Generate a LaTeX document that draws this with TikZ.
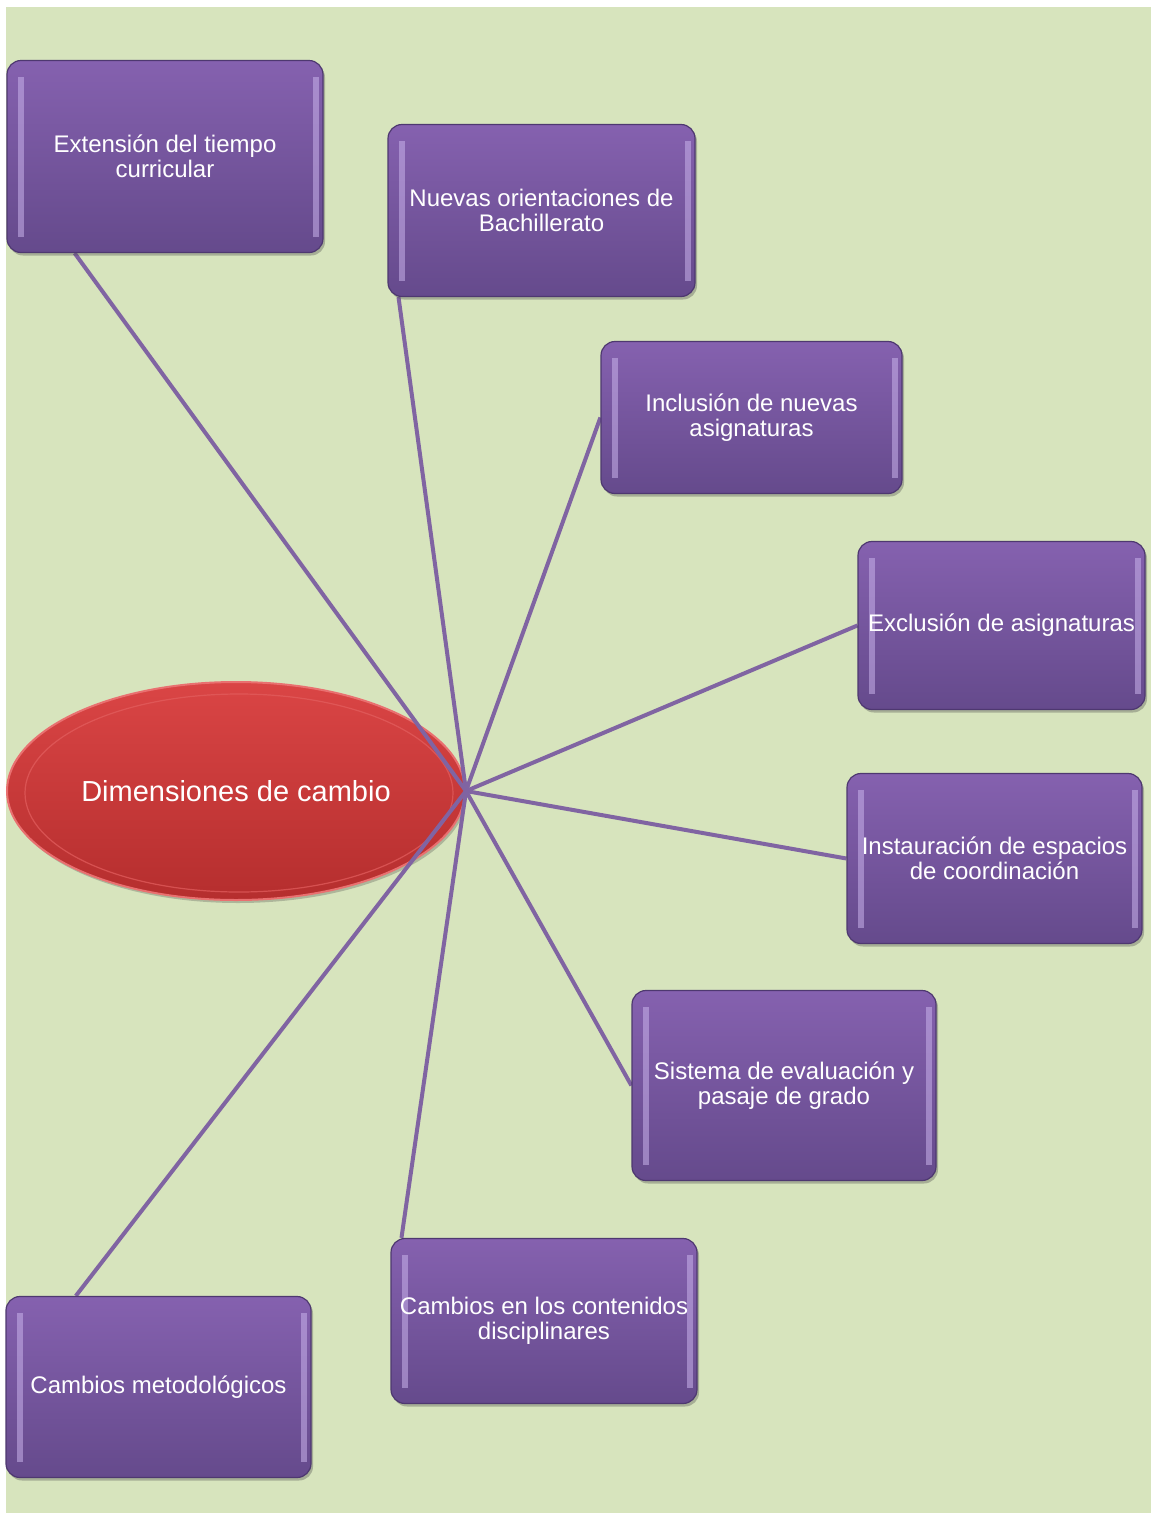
\documentclass[tikz,border=0pt]{standalone}
\usepackage{fontspec}
\setmainfont{Liberation Sans}
\usetikzlibrary{shapes.geometric,shadows,calc}
\definecolor{bgreen}{HTML}{D7E4BD}
\definecolor{boxtop}{HTML}{8561AF}
\definecolor{boxbot}{HTML}{654A8C}
\definecolor{boxedge}{HTML}{4E3870}
\definecolor{boxlite}{HTML}{C8B2EA}
\definecolor{linkc}{HTML}{8064A2}
\definecolor{redtop}{HTML}{DA4545}
\definecolor{redbot}{HTML}{B52E2E}
\definecolor{rededge}{HTML}{E97070}
\pgfdeclarelayer{bottom}
\pgfdeclarelayer{links}
\pgfsetlayers{bottom,links,main}
\begin{document}
\begin{tikzpicture}[x=1pt,y=-1pt,
  item/.style={rectangle, rounded corners=14pt, inner sep=0pt, align=center,
    top color=boxtop, bottom color=boxbot, draw=boxedge, line width=1.2pt,
    text=white, font=\fontsize{24}{24.5}\selectfont,
    drop shadow={shadow xshift=2pt, shadow yshift=-3pt, opacity=0.35, fill=black!70},
    path picture={
      \fill[boxlite, opacity=0.55, sharp corners]
        ([xshift=11pt,yshift=-16pt]path picture bounding box.north west) rectangle
        ([xshift=17pt,yshift=16pt]path picture bounding box.south west);
      \fill[boxlite, opacity=0.55, sharp corners]
        ([xshift=-4pt,yshift=-16pt]path picture bounding box.north east) rectangle
        ([xshift=-10pt,yshift=16pt]path picture bounding box.south east);
    }},
  hubel/.style={ellipse, inner sep=0pt, minimum width=458pt, minimum height=218pt,
    top color=redtop, bottom color=redbot, draw=rededge, line width=2pt,
    text=white, font=\fontsize{29}{30}\selectfont,
    drop shadow={shadow xshift=2pt, shadow yshift=-3pt, opacity=0.3, fill=black!70},
    path picture={
      \draw[rededge!60!redtop, line width=1.2pt, opacity=0.7]
        ($(path picture bounding box.center)+(3pt,-2pt)$) ellipse [x radius=214pt, y radius=99pt];
    }},
  link/.style={draw=linkc, line width=4pt}]

\useasboundingbox (0,0) rectangle (1151,1513);

\node[item, minimum width=316pt, minimum height=192pt] (b1) at (165,156.5) {Extensión del tiempo\\curricular};
\node[item, minimum width=307pt, minimum height=172pt] (b2) at (541.5,210.5) {Nuevas orientaciones de\\Bachillerato};
\node[item, minimum width=301pt, minimum height=152pt] (b3) at (751.5,417.5) {Inclusión de nuevas\\asignaturas};
\node[item, minimum width=287pt, minimum height=168pt] (b4) at (1001.5,625.5) {Exclusión de asignaturas};
\node[item, minimum width=295pt, minimum height=170pt] (b5) at (994.5,858.5) {Instauración de espacios\\de coordinación};
\node[item, minimum width=304pt, minimum height=190pt] (b6) at (784,1085.5) {Sistema de evaluación y\\pasaje de grado};
\node[item, minimum width=306pt, minimum height=165pt] (b7) at (544,1321) {Cambios en los contenidos\\disciplinares};
\node[item, minimum width=305pt, minimum height=181pt] (b8) at (158.5,1387) {Cambios metodológicos};

\begin{pgfonlayer}{bottom}
\fill[white] (0,0) rectangle (1151,1513);
\fill[bgreen] (6,7) rectangle (1151,1513);
\node[hubel] (hub) at (236,791) {Dimensiones de cambio};
\end{pgfonlayer}
\coordinate (h) at (hub.east);

\begin{pgfonlayer}{links}
\draw[link] (h) -- ($(b1.south west)!0.215!(b1.south east)$);
\draw[link] (h) -- ($(b2.south west)!0.036!(b2.south east)$);
\draw[link] (h) -- (b3.west);
\draw[link] (h) -- (b4.west);
\draw[link] (h) -- (b5.west);
\draw[link] (h) -- (b6.west);
\draw[link] (h) -- ($(b7.north west)!0.036!(b7.north east)$);
\draw[link] (h) -- ($(b8.north west)!0.23!(b8.north east)$);
\end{pgfonlayer}
\end{tikzpicture}
\end{document}
